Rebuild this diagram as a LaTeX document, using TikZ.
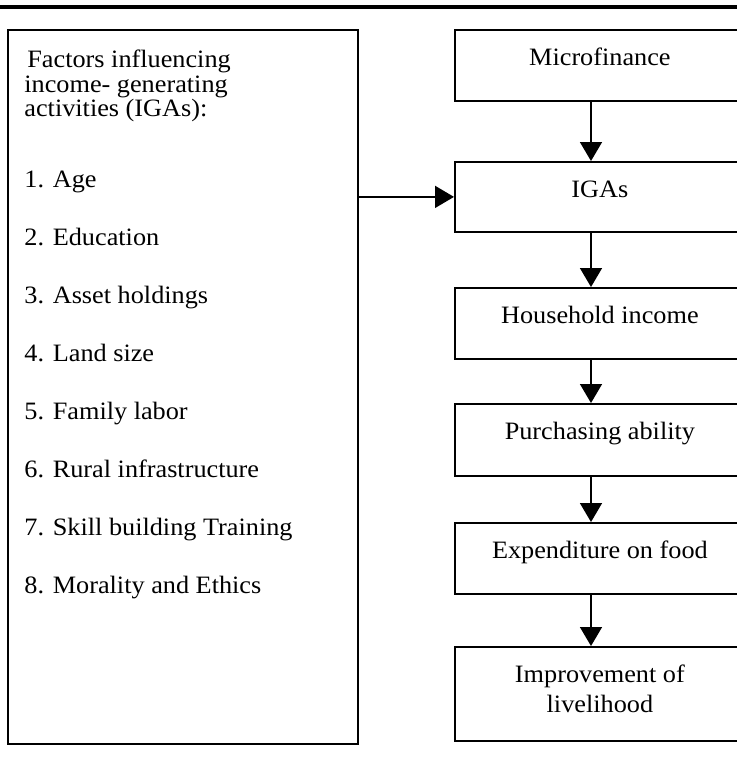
\documentclass[tikz,border=0pt]{standalone}
\usepackage{fontspec}
\setmainfont{Liberation Serif}[FakeStretch=1.05]
\usetikzlibrary{arrows.meta}
\begin{document}
\begin{tikzpicture}[x=0.5pt,y=-0.5pt,
   every node/.style={font=\fontsize{12.5pt}{15pt}\selectfont},
   box/.style={draw,line width=0.9pt,minimum width=145pt,anchor=north west,inner sep=0pt,text height=18pt},
   item/.style={anchor=base west,inner sep=0pt},
   flow/.style={line width=0.8pt,-{Triangle[width=11pt,length=9.5pt]}}]
   \useasboundingbox (0,0) rectangle (737,766);
   \clip (0,0) rectangle (737,766);
   \draw [line width=1.6pt] (0,7) -- (737,7);
   % factors
   \node [box,minimum width=175pt,minimum height=357pt] (factors) at (7,29) {};
   \node [item] (t1) at (27,67) {Factors influencing};
   \node [item] (t2) at (24,92) {income- generating};
   \node [item] (t3) at (24,116) {activities (IGAs):};
   \foreach \txt [count=\i] in {1. Age,2. Education,3. Asset holdings,4. Land size,5. Family labor,6. Rural infrastructure,7. Skill building Training,8. Morality and Ethics}
      \node [item] (f\i) at (24,{129+58*\i}) {\txt};
   % chain
   \node [box,text depth=17.5pt] (micro) at (454,29) {Microfinance};
   \node [box,text depth=17pt] (igas) at (454,161) {IGAs};
   \node [box,text depth=17.5pt] (income) at (454,287) {Household income};
   \node [box,text depth=18pt] (buy) at (454,403) {Purchasing ability};
   \node [box,text depth=17.5pt] (food) at (454,522) {Expenditure on food};
   \node [box,text height=33pt,text depth=14pt,align=center] (life) at (454,646) {Improvement of\\livelihood};
   \coordinate (ax) at (591,0);
   \draw [flow] (micro.south -| ax) -- (igas.north -| ax);
   \draw [flow] (igas.south -| ax) -- (income.north -| ax);
   \draw [flow] (income.south -| ax) -- (buy.north -| ax);
   \draw [flow] (buy.south -| ax) -- (food.north -| ax);
   \draw [flow] (food.south -| ax) -- (life.north -| ax);
   \draw [flow] (factors.east |- igas.west) -- (igas.west);
\end{tikzpicture}
\end{document}
